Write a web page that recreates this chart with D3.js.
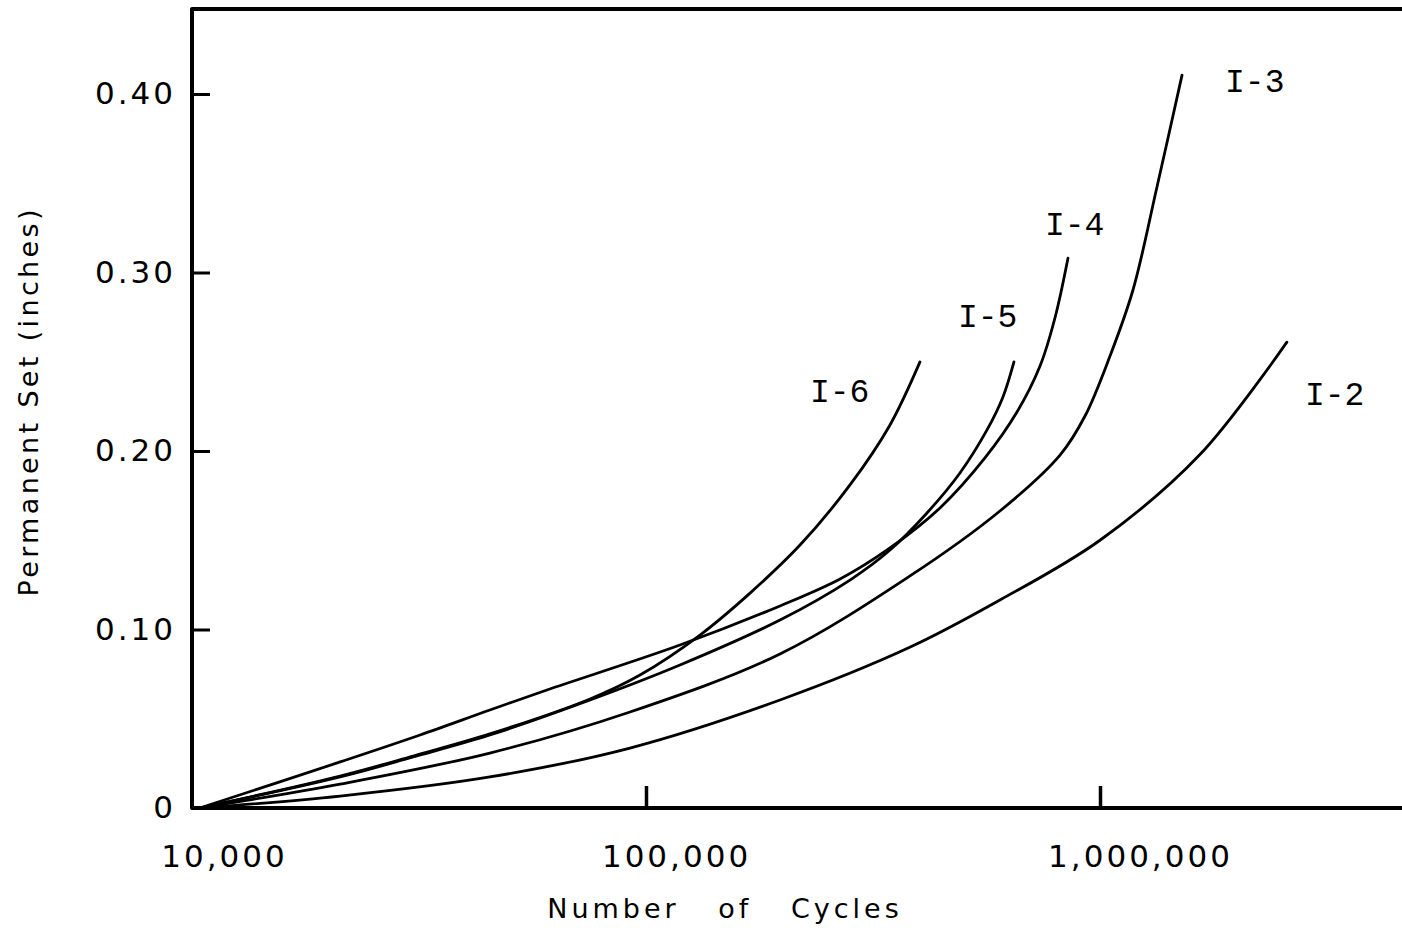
<!DOCTYPE html>
<html>
<head>
<meta charset="utf-8">
<script src="https://cdn.jsdelivr.net/npm/d3@7"></script>
<style>
  html, body { margin: 0; padding: 0; background: #fff; overflow: hidden; }
</style>
</head>
<body>
<div id="chart"></div>
<script>
// Values: [number of cycles, permanent set in inches]
const curveI2 = [[10400, 0], [21200, 0.0067], [45300, 0.0174], [92200, 0.0336], [197300, 0.0605],
                 [381000, 0.090], [602000, 0.1165], [1000000, 0.150], [1660000, 0.198], [2580000, 0.261]];
const curveI3 = [[10400, 0], [21200, 0.0134], [45300, 0.0308], [92200, 0.0538], [197300, 0.0863],
                 [381500, 0.130], [602000, 0.1664], [816500, 0.1977], [926800, 0.2196], [1052000, 0.2532],
                 [1182000, 0.2902], [1335000, 0.3479], [1516000, 0.4106]];
const curveI4 = [[10400, 0], [21200, 0.0258], [31800, 0.0409], [45300, 0.0549], [60500, 0.0661],
                 [118800, 0.0913], [197300, 0.1132], [267600, 0.1283], [344700, 0.1457], [444200, 0.1681],
                 [557900, 0.1961], [656300, 0.2218], [737700, 0.2476], [795700, 0.2745], [850000, 0.308]];
const curveI5 = [[10400, 0], [21200, 0.0174], [30700, 0.0286], [45300, 0.0409], [75300, 0.0605],
                 [118800, 0.0801], [197300, 0.1053], [281400, 0.1277], [344700, 0.1445], [415800, 0.1653],
                 [491500, 0.1877], [563800, 0.2118], [611300, 0.2303], [646400, 0.2499]];
const curveI6 = [[10400, 0], [21200, 0.0179], [30700, 0.0291], [45300, 0.0415], [75300, 0.0611],
                 [97000, 0.0745], [131500, 0.0969], [169500, 0.1204], [218400, 0.1473], [281400, 0.181],
                 [344700, 0.2146], [401300, 0.2499]];

const curveNames = ['I-2', 'I-3', 'I-4', 'I-5', 'I-6'];
const curveValues = [curveI2, curveI3, curveI4, curveI5, curveI6];

const yTicks = [0, 0.1, 0.2, 0.3, 0.4];
const yTickLabels = ['0', '0.10', '0.20', '0.30', '0.40'];
const xTicks = [10000, 100000, 1000000];
const xTickLabels = ['10,000', '100,000', '1,000,000'];

const width = 1402, height = 931;
const plotLeft = 192, plotTop = 9, plotBottom = 808;
const decade = 454;

// label placement relative to the curve's last point (pixels)
const labelOffset = { 'I-2': [18, 63], 'I-3': [43, 17], 'I-4': [-23, -23], 'I-5': [-56, -35], 'I-6': [-110, 40] };

const svg = d3.select('#chart').append('svg')
    .attr('width', width)
    .attr('height', height);

const x = d3.scaleLog()
    .domain([1e4, 1e7])
    .range([plotLeft, plotLeft + 3 * decade]);

const y = d3.scaleLinear()
    .domain([0, 0.4])
    .range([plotBottom, plotBottom - 4 * 178.5]);

// Frame (open on the right, runs off the page)
svg.append('path')
    .attr('d', `M${width + 10},${plotTop} L${plotLeft},${plotTop} L${plotLeft},${plotBottom} L${width + 10},${plotBottom}`)
    .attr('fill', 'none')
    .attr('stroke', '#000')
    .attr('stroke-width', 4)
    .attr('stroke-linejoin', 'round');

// Y axis (ticks point inward)
const yAxis = svg.append('g')
    .attr('transform', `translate(${plotLeft},0)`)
    .call(d3.axisLeft(y)
        .tickValues(yTicks)
        .tickSize(-18)
        .tickPadding(16)
        .tickFormat((d, i) => yTickLabels[i]));
yAxis.select('.domain').remove();
yAxis.selectAll('.tick line').attr('stroke', '#000').attr('stroke-width', 3);
yAxis.selectAll('.tick text')
    .attr('fill', '#000')
    .style('font-family', '"DejaVu Sans", sans-serif')
    .style('font-size', '31px')
    .style('letter-spacing', '3px');

// X axis (ticks point up)
const xAxis = svg.append('g')
    .attr('transform', `translate(0,${plotBottom})`)
    .call(d3.axisBottom(x)
        .tickValues(xTicks)
        .tickSize(-22)
        .tickPadding(37)
        .tickFormat((d, i) => xTickLabels[i]));
xAxis.select('.domain').remove();
xAxis.selectAll('.tick line').attr('stroke', '#000').attr('stroke-width', 3.5)
    .attr('display', d => d === 1e4 ? 'none' : null);
xAxis.selectAll('.tick text')
    .attr('fill', '#000')
    .attr('dx', (d, i) => [32, 30, 40][i])
    .style('font-family', '"DejaVu Sans", sans-serif')
    .style('font-size', '31px')
    .style('letter-spacing', '3px');

// Axis titles
svg.append('text')
    .attr('x', 725)
    .attr('y', 918)
    .attr('text-anchor', 'middle')
    .style('font-family', '"DejaVu Sans", sans-serif')
    .style('font-size', '27px')
    .style('letter-spacing', '4px')
    .style('word-spacing', '26px')
    .text('Number of Cycles');

svg.append('text')
    .attr('transform', 'translate(38,403) rotate(-90)')
    .attr('text-anchor', 'middle')
    .attr('textLength', 387)
    .attr('lengthAdjust', 'spacing')
    .style('font-family', '"DejaVu Sans", sans-serif')
    .style('font-size', '27px')
    .text('Permanent Set (inches)');

// Curves
const line = d3.line()
    .x(d => x(d[0]))
    .y(d => y(d[1]))
    .curve(d3.curveCatmullRom.alpha(0.5));

svg.append('g')
    .selectAll('path')
    .data(curveValues)
    .join('path')
    .attr('d', line)
    .attr('fill', 'none')
    .attr('stroke', '#000')
    .attr('stroke-width', 2.8)
    .attr('stroke-linecap', 'round');

// Curve labels
svg.append('g')
    .selectAll('text')
    .data(curveNames)
    .join('text')
    .attr('x', (d, i) => x(curveValues[i][curveValues[i].length - 1][0]) + labelOffset[d][0])
    .attr('y', (d, i) => y(curveValues[i][curveValues[i].length - 1][1]) + labelOffset[d][1])
    .style('font-family', '"Liberation Mono", monospace')
    .style('font-size', '33px')
    .text(d => d);
</script>
</body>
</html>
